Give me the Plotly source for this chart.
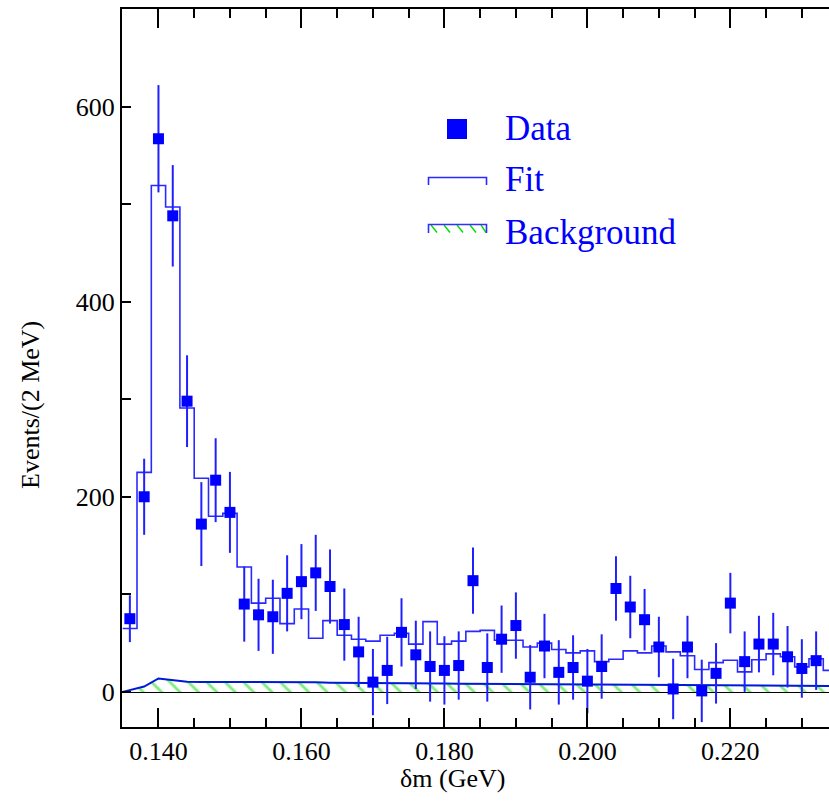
import plotly.graph_objects as go

# ---------------- data ----------------
x_centers = [0.136, 0.138, 0.140, 0.142, 0.144, 0.146, 0.148, 0.150, 0.152, 0.154,
             0.156, 0.158, 0.160, 0.162, 0.164, 0.166, 0.168, 0.170, 0.172, 0.174,
             0.176, 0.178, 0.180, 0.182, 0.184, 0.186, 0.188, 0.190, 0.192, 0.194,
             0.196, 0.198, 0.200, 0.202, 0.204, 0.206, 0.208, 0.210, 0.212, 0.214,
             0.216, 0.218, 0.220, 0.222, 0.224, 0.226, 0.228, 0.230, 0.232]
data_y = [75, 200, 567, 488, 298, 172, 217, 184, 90, 79,
          77, 101, 113, 122, 108, 69, 41, 10, 22, 61,
          38, 26, 22, 27, 114, 25, 54, 68, 15, 47,
          20, 25, 11, 26, 106, 87, 74, 46, 3, 46,
          1, 19, 91, 31, 49, 49, 36, 24, 32]
data_err = [24, 39, 55, 52, 47, 43, 43, 41.5, 38.5, 37,
            38, 39, 38.5, 39, 38, 37, 36, 34, 34.5, 35,
            35, 36, 35, 35, 34, 35, 34.5, 34, 33, 33,
            33, 33, 33, 33, 33, 32, 31.5, 31, 31, 32,
            32, 31, 31, 31, 29, 32, 31.5, 30, 30]

fit_centers = [0.136, 0.138, 0.140, 0.142, 0.144, 0.146, 0.148, 0.150, 0.152, 0.154,
               0.156, 0.158, 0.160, 0.162, 0.164, 0.166, 0.168, 0.170, 0.172, 0.174,
               0.176, 0.178, 0.180, 0.182, 0.184, 0.186, 0.188, 0.190, 0.192, 0.194,
               0.196, 0.198, 0.200, 0.202, 0.204, 0.206, 0.208, 0.210, 0.212, 0.214,
               0.216, 0.218, 0.220, 0.222, 0.224, 0.226, 0.228, 0.230, 0.232, 0.234]
fit_y = [65, 225, 519, 497, 291, 219, 180, 183, 128, 91,
         96, 70, 85, 55, 73, 58, 54, 52, 58, 60,
         49, 72, 49, 52, 62, 63, 53, 53, 46, 50,
         43.5, 40, 42, 31, 33.5, 42, 40, 47, 41, 37,
         23, 30, 32.5, 20.5, 33, 39, 36, 25.6, 34, 22]
bin_width = 0.002

bg_x = [0.135, 0.136, 0.138, 0.140, 0.142, 0.144, 0.146, 0.148, 0.150, 0.152,
        0.154, 0.156, 0.158, 0.160, 0.162, 0.164, 0.166, 0.168, 0.170, 0.172,
        0.174, 0.176, 0.178, 0.180, 0.182, 0.184, 0.186, 0.188, 0.190, 0.192,
        0.194, 0.196, 0.198, 0.200, 0.202, 0.204, 0.206, 0.208, 0.210, 0.212,
        0.214, 0.216, 0.218, 0.220, 0.222, 0.224, 0.226, 0.228, 0.230, 0.232, 0.234]
bg_y = [0, 1.7, 5.5, 13.8, 12.3, 10.3, 10.2, 10.2, 10.2, 10.1,
        10.0, 10.0, 10.0, 10.0, 9.8, 9.4, 9.2, 9.0, 8.9, 8.8,
        8.7, 8.6, 8.5, 8.5, 8.4, 8.3, 8.0, 7.7, 7.6, 7.5,
        7.4, 7.3, 7.2, 7.0, 6.9, 6.9, 6.8, 6.8, 6.7, 6.7,
        6.6, 6.6, 6.5, 6.5, 6.4, 6.4, 6.3, 6.3, 6.2, 6.2, 6.1]

legend_labels = ["Data", "Fit", "Background"]
x_title = "δm (GeV)"
y_title = "Events/(2 MeV)"

# ---------------- styles / layout geometry ----------------
FONT = "Liberation Serif"
BLUE = "#0000ff"
FIT_BLUE = "#2a2aff"
GREEN = "#00dd00"
L, R, T, B = 122, 0, 9, 79
W, H = 829, 806
PW, PH = W - L - R, H - T - B


def px(xp):
    return (xp - L) / PW


def py(yp):
    return (H - B - yp) / PH


fig = go.Figure()

# background (hatched)
fig.add_trace(go.Scatter(
    x=bg_x, y=bg_y, mode="lines", fill="tozeroy",
    line=dict(color="#0018d8", width=2),
    fillcolor="rgba(255,255,255,0)",
    fillpattern=dict(shape="\\", fgcolor=GREEN, bgcolor="white", size=13, solidity=0.22),
    showlegend=False, hoverinfo="skip"))

# fit histogram
fit_edges = [c - bin_width / 2 for c in fit_centers] + [fit_centers[-1] + bin_width / 2]
fit_steps = fit_y + [fit_y[-1]]
fig.add_trace(go.Scatter(
    x=fit_edges, y=fit_steps, mode="lines", line=dict(color=FIT_BLUE, width=1.6, shape="hv"),
    showlegend=False))

# data points
fig.add_trace(go.Scatter(
    x=x_centers, y=data_y, mode="markers",
    marker=dict(symbol="square", size=11, color=BLUE, line=dict(width=0)),
    error_y=dict(type="data", array=data_err, visible=True, color="#2020ff", thickness=2, width=0),
    showlegend=False))

# ---------------- manual legend ----------------
shapes = []
annotations = []
# Data marker
shapes.append(dict(type="rect", xref="paper", yref="paper",
                   x0=px(447), x1=px(467), y0=py(139), y1=py(119),
                   fillcolor=BLUE, line=dict(width=0)))
# Fit bracket
shapes.append(dict(type="path", xref="paper", yref="paper",
                   path=f"M {px(428.5)},{py(185)} L {px(428.5)},{py(177.5)} L {px(486.5)},{py(177.5)} L {px(486.5)},{py(185)}",
                   line=dict(color=FIT_BLUE, width=1.6)))
# Background sample: hatch lines + bracket
for hx in [431, 444, 457, 470, 481]:
    shapes.append(dict(type="line", xref="paper", yref="paper",
                       x0=px(hx), y0=py(225), x1=px(min(hx + 6, 486)), y1=py(232.5),
                       line=dict(color=GREEN, width=1.4)))
shapes.append(dict(type="path", xref="paper", yref="paper",
                   path=f"M {px(428.5)},{py(233)} L {px(428.5)},{py(224.5)} L {px(486.5)},{py(224.5)} L {px(486.5)},{py(233)}",
                   line=dict(color="#3030ff", width=1.6)))

legend_y = [128, 180, 233]
for lab, ly in zip(legend_labels, legend_y):
    annotations.append(dict(text=lab, xref="paper", yref="paper", x=px(503), y=py(ly),
                            xanchor="left", yanchor="middle", showarrow=False,
                            font=dict(family=FONT, size=35, color=BLUE)))

# axis titles
annotations.append(dict(text=x_title, xref="paper", yref="paper", x=px(452), y=py(778),
                        xanchor="center", yanchor="middle", showarrow=False,
                        font=dict(family=FONT, size=26, color="black")))
annotations.append(dict(text=y_title, xref="paper", yref="paper", x=px(30), y=py(405),
                        xanchor="center", yanchor="middle", showarrow=False, textangle=-90,
                        font=dict(family=FONT, size=26, color="black")))

fig.update_layout(
    width=W, height=H,
    margin=dict(l=L, r=R, t=T, b=B, pad=0),
    paper_bgcolor="white", plot_bgcolor="white",
    showlegend=False,
    shapes=shapes, annotations=annotations,
    font=dict(family=FONT, size=26, color="black"),
)
fig.update_xaxes(
    range=[0.1349, 0.2338], showgrid=False, zeroline=False,
    showline=True, linecolor="black", linewidth=2, mirror="ticks",
    ticks="inside", ticklen=19, tickwidth=1.5, tickcolor="black",
    tick0=0.140, dtick=0.020, tickformat=".3f",
    tickfont=dict(family=FONT, size=26, color="black"),
    minor=dict(ticks="inside", ticklen=9, tickwidth=1.5, tickcolor="black", dtick=0.005, tick0=0.140),
)
fig.update_yaxes(
    range=[-36, 700], showgrid=False,
    zeroline=True, zerolinecolor="black", zerolinewidth=1.5,
    showline=True, linecolor="black", linewidth=2, mirror=False,
    ticks="inside", ticklen=9, tickwidth=1.5, tickcolor="black",
    tick0=0, dtick=200,
    tickfont=dict(family=FONT, size=26, color="black"),
    minor=dict(ticks="inside", ticklen=9, tickwidth=1.5, tickcolor="black", dtick=100),
)

fig.write_html("out.html")
